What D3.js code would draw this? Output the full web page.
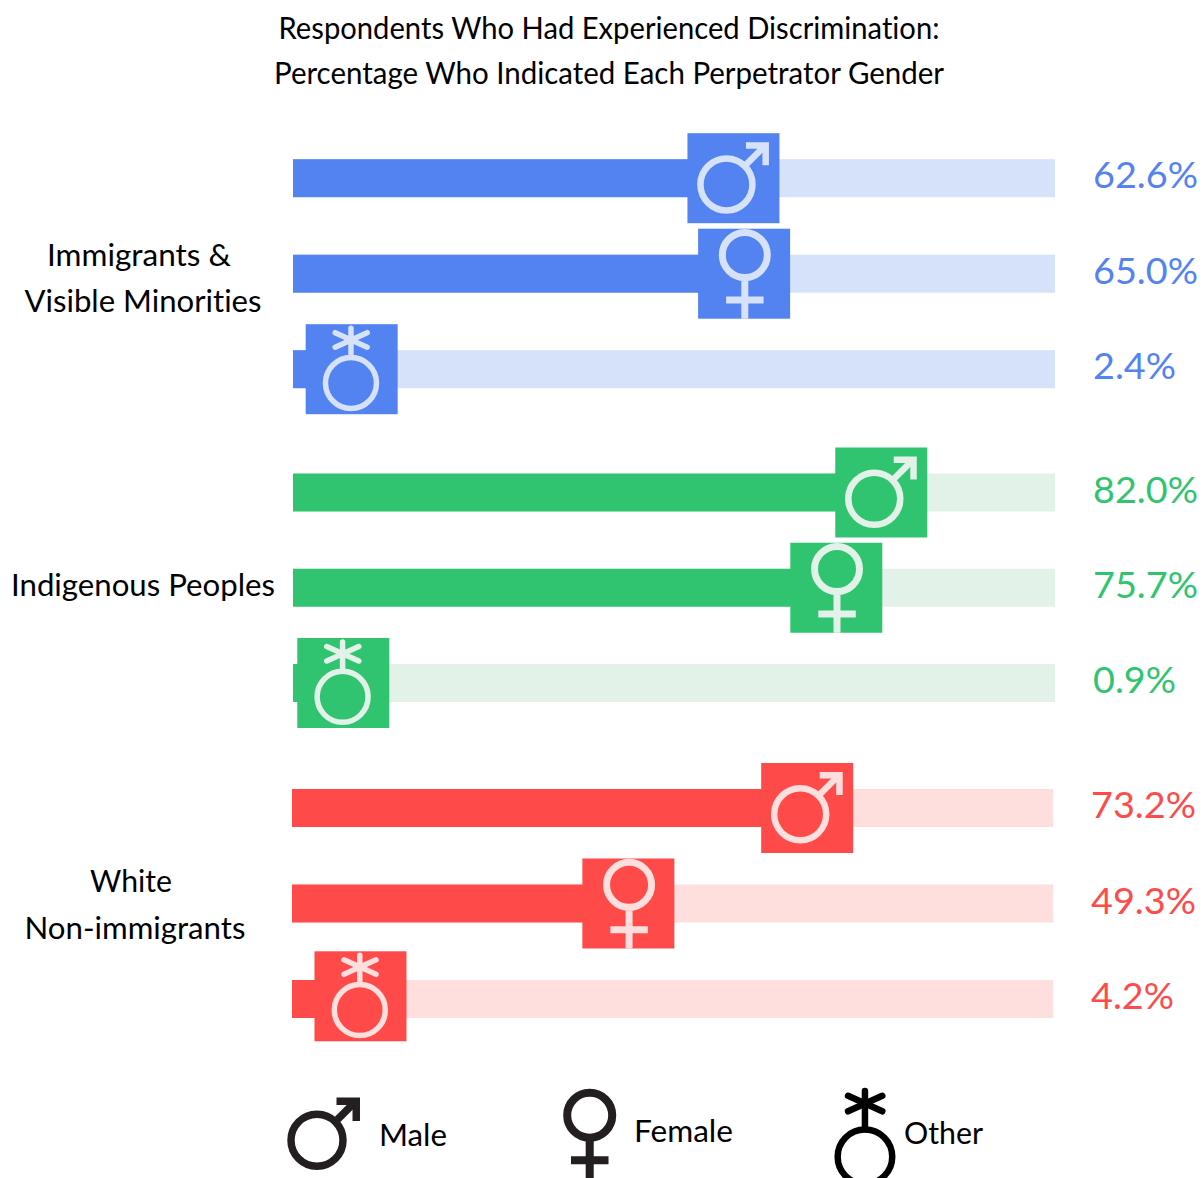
<!DOCTYPE html>
<html>
<head>
<meta charset="utf-8">
<script src="https://cdn.jsdelivr.net/npm/d3@7"></script>
<style>
  html, body { margin: 0; padding: 0; background: #fff; }
  svg { display: block; }
  text { font-family: Lato, "Open Sans", sans-serif; font-variant-ligatures: none; }
</style>
</head>
<body>
<svg id="chart" width="1203" height="1178"></svg>
<script>
// values shown on the right of each bar, in row order male / female / other
const perpetrators = ['Male', 'Female', 'Other']
const immigrantsValues = [62.6, 65.0, 2.4]
const indigenousValues = [82.0, 75.7, 0.9]
const whiteValues = [73.2, 49.3, 4.2]
// where the square slider handle sits on the 0-100 track
const immigrantsHandles = [57.8, 59.2, 7.7]
const indigenousHandles = [77.2, 71.3, 6.6]
const whiteHandles = [67.7, 44.2, 9.0]
const groupColors = ['#5383f0', '#31c470', '#ff4a4a']
const trackColors = ['#d6e2fa', '#e2f2e8', '#ffdede']

const svg = d3.select('#chart')
const BAR_H = 38
const BOX_W = 92
const BOX_H = 90

const groups = [
  { values: immigrantsValues, handles: immigrantsHandles, x: d3.scaleLinear().domain([0, 100]).range([293, 1055]), y: d3.scaleLinear().domain([0, 2]).range([178.2, 369.2]), labelX: 1093 },
  { values: indigenousValues, handles: indigenousHandles, x: d3.scaleLinear().domain([0, 100]).range([293, 1055]), y: d3.scaleLinear().domain([0, 2]).range([492.5, 683]), labelX: 1093 },
  { values: whiteValues, handles: whiteHandles, x: d3.scaleLinear().domain([0, 100]).range([292, 1053]), y: d3.scaleLinear().domain([0, 2]).range([808, 999]), labelX: 1091 }
]

// the three symbols, drawn around the middle of the handle box
// weight thickens the strokes, lift raises the asterisk (both only for the legend)
function drawGlyph(g, kind, color, weight = 1, lift = 0) {
  const line = (x1, y1, x2, y2, w, cap) => g.append('line')
    .attr('x1', x1).attr('y1', y1).attr('x2', x2).attr('y2', y2)
    .attr('stroke', color).attr('stroke-width', w * weight).attr('stroke-linecap', cap || 'butt')
  const ring = (cx, cy, r, w) => g.append('circle')
    .attr('cx', cx).attr('cy', cy).attr('r', r)
    .attr('fill', 'none').attr('stroke', color).attr('stroke-width', w * weight)

  if (kind === 'Male') {
    ring(-7, 6.3, 26, 6.5)
    line(12, -13, 31, -32, 6.5)
    g.append('path')
      .attr('d', 'M12.5,-32.75H32.25V-13')
      .attr('fill', 'none').attr('stroke', color).attr('stroke-width', 6.5 * weight)
  } else if (kind === 'Female') {
    ring(0.7, -18.7, 22.5, 7)
    line(0.7, 7, 0.7, 45, 7)
    line(-18, 26.3, 19.5, 26.3, 7)
  } else {
    ring(-0.7, 13.8, 25.5, 5.5)
    line(-0.7, -41 - lift, -0.7, -12, 5.5, 'round')
    line(-16.5, -36.5 - lift, 15.5, -22 - lift, 5.5, 'round')
    line(-16.5, -22 - lift, 15.5, -36.5 - lift, 5.5, 'round')
  }
}

function drawTracks(group, i) {
  const g = svg.append('g').attr('class', 'group-' + i)
  perpetrators.forEach((name, j) => {
    const y = group.y(j)
    g.append('rect')
      .attr('x', group.x(0)).attr('y', y - BAR_H / 2)
      .attr('width', group.x(100) - group.x(0)).attr('height', BAR_H)
      .attr('fill', trackColors[i])
    g.append('rect')
      .attr('x', group.x(0)).attr('y', y - BAR_H / 2)
      .attr('width', group.x(group.values[j]) - group.x(0)).attr('height', BAR_H)
      .attr('fill', groupColors[i])

    // the last handle of the last group sits a little high in the original
    const nudge = (i === 2 && j === 2) ? -2.7 : 0
    const handle = g.append('g')
      .attr('transform', 'translate(' + group.x(group.handles[j]) + ',' + (y + nudge) + ')')
    handle.append('rect')
      .attr('x', -BOX_W / 2).attr('y', -BOX_H / 2)
      .attr('width', BOX_W).attr('height', BOX_H)
      .attr('fill', groupColors[i])
    drawGlyph(handle, name, trackColors[i])

    g.append('text')
      .attr('x', group.labelX).attr('y', y + 10)
      .attr('font-size', 37).attr('fill', groupColors[i])
      .attr('textLength', group.values[j] < 10 ? 83 : 105)
      .attr('lengthAdjust', 'spacingAndGlyphs')
      .text(group.values[j].toFixed(1) + '%')
  })
}

groups.forEach(drawTracks)

function drawText(t, x, y, size, width, anchor) {
  svg.append('text')
    .attr('x', x).attr('y', y)
    .attr('font-size', size).attr('fill', '#000')
    .attr('text-anchor', anchor || 'middle')
    .attr('textLength', width)
    .attr('lengthAdjust', 'spacingAndGlyphs')
    .text(t)
}

drawText('Respondents Who Had Experienced Discrimination:', 609, 39, 30, 661)
drawText('Percentage Who Indicated Each Perpetrator Gender', 609, 84, 30, 670)

drawText('Immigrants &', 139, 266, 30, 184)
drawText('Visible Minorities', 143, 312, 30, 237)
drawText('Indigenous Peoples', 143, 596, 30, 264)
drawText('White', 131, 892, 30, 82)
drawText('Non-immigrants', 135, 939, 30, 221)

// legend
const legendMale = svg.append('g').attr('transform', 'translate(324,1134)')
drawGlyph(legendMale, 'Male', '#231f20', 1.15)
const legendFemale = svg.append('g').attr('transform', 'translate(589,1134)')
drawGlyph(legendFemale, 'Female', '#231f20', 1.15)
const legendOther = svg.append('g').attr('transform', 'translate(865.7,1142) scale(1.07)')
drawGlyph(legendOther, 'Other', '#000', 1.1, 6.7)

drawText('Male', 379, 1146, 30, 68, 'start')
drawText('Female', 634, 1142, 30, 99, 'start')
drawText('Other', 904, 1144, 30, 79, 'start')
</script>
</body>
</html>
